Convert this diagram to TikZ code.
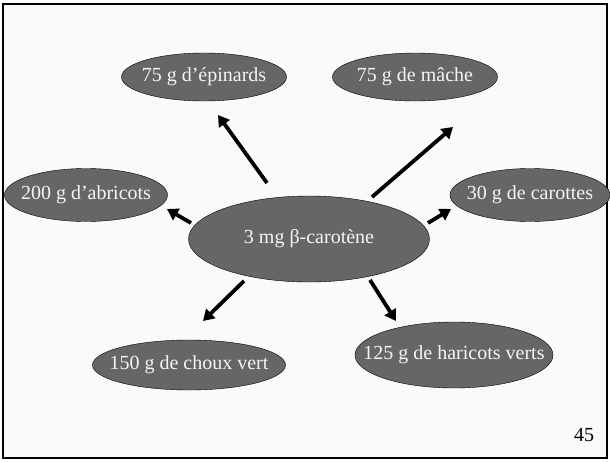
\documentclass[tikz,border=0pt]{standalone}
\usepackage{fontspec}
\setmainfont{Liberation Serif}
\usetikzlibrary{shapes.geometric,arrows.meta}

\begin{document}
\begin{tikzpicture}
  [x=1pt,y=-1pt,font=\fontsize{20}{23}\selectfont,
   bubble/.style={ellipse,draw=black,fill=black!60,text=black!4,inner xsep=-25pt,inner ysep=0pt},
   link/.style={line width=3.8pt,-{Triangle[length=11pt,width=13pt]}}]
  \useasboundingbox (0,0) rectangle (610,461);
  \draw[line width=1.5pt,fill=black!2] (3,4) rectangle (607,458);

  \node[bubble,minimum width=241pt,minimum height=86pt] (beta) at (309,239) {3 mg β-carotène};
  \node[bubble,minimum width=165pt,minimum height=48pt] (epin) at (204,77) {75 g d’épinards};
  \node[bubble,minimum width=165pt,minimum height=48pt] (mache) at (415,77) {75 g de mâche};
  \node[bubble,minimum width=163pt,minimum height=53pt] (abri) at (86,195) {200 g d’abricots};
  \node[bubble,minimum width=160pt,minimum height=53pt] (caro) at (530,195) {30 g de carottes};
  \node[bubble,minimum width=193pt,minimum height=50pt] (choux) at (189,365) {150 g de choux vert};
  \node[bubble,minimum width=198pt,minimum height=66pt] (hari) at (454,355) {125 g de haricots verts};
  \node (page) at (584,435) {45};

  % arrow ends
  \coordinate (a1) at (267,183); \coordinate (b1) at (218,115);
  \coordinate (a2) at (372,197); \coordinate (b2) at (453,127);
  \coordinate (a3) at (191,223); \coordinate (b3) at (167,209);
  \coordinate (a4) at (428,223); \coordinate (b4) at (451,209);
  \coordinate (a5) at (244,281); \coordinate (b5) at (203,321);
  \coordinate (a6) at (370,280); \coordinate (b6) at (396,321);

  \foreach \from/\to in {a1/b1, a2/b2, a3/b3, a4/b4, a5/b5, a6/b6}
    \draw[link] (\from) -- (\to);

\end{tikzpicture}
\end{document}
